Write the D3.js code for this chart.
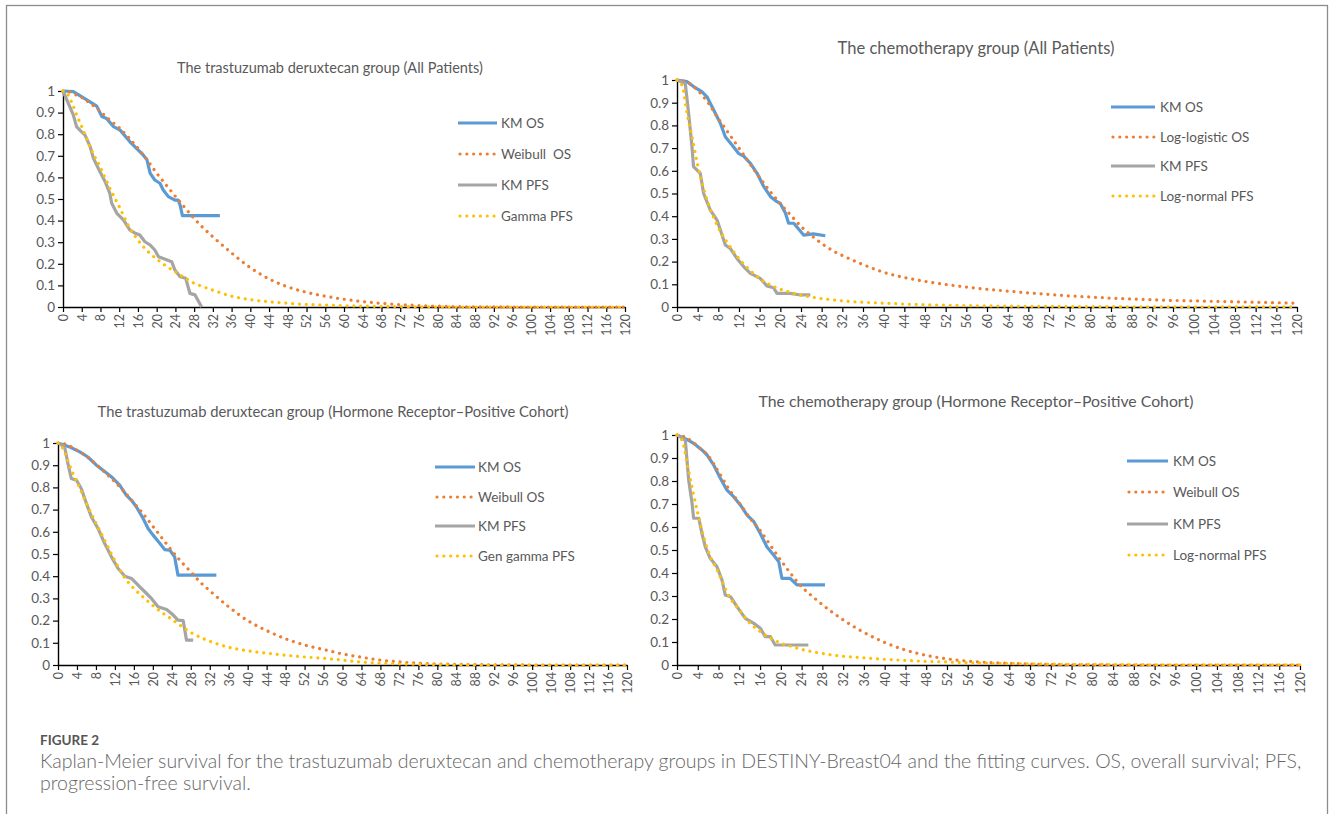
<!DOCTYPE html>
<html>
<head>
<meta charset="utf-8">
<script src="https://cdn.jsdelivr.net/npm/d3@7"></script>
<style>
  body { margin: 0; background: #fff; }
  svg text { font-family: Lato, "Open Sans", sans-serif; }
</style>
</head>
<body>
<script>
const fitMonths = [0,1,2,3,4,6,8,10,12,14,16,18,20,22,24,26,28,30,32,36,40,44,48,52,56,60,64,68,72,76,80,84,88,92,96,100,104,108,112,116,120]
const xTickLabels = [0,4,8,12,16,20,24,28,32,36,40,44,48,52,56,60,64,68,72,76,80,84,88,92,96,100,104,108,112,116,120]
const yTicks = [0,0.1,0.2,0.3,0.4,0.5,0.6,0.7,0.8,0.9,1]

// trastuzumab deruxtecan, all patients
const p1KmOs = [[0,1],[2.2,0.997],[5.0,0.96],[7.2,0.93],[8.3,0.882],[9.3,0.873],[10.8,0.835],[12.2,0.819],[14.3,0.765],[17.1,0.704],[17.9,0.683],[18.6,0.62],[19.6,0.588],[20.7,0.573],[21.4,0.542],[22.5,0.511],[23.9,0.495],[24.6,0.495],[25.0,0.472],[25.5,0.423],[33.5,0.423]]
const p1KmPfs = [[0,1],[1.0,0.95],[2.2,0.889],[2.9,0.835],[3.6,0.819],[4.7,0.796],[5.8,0.742],[6.5,0.688],[7.9,0.626],[9.0,0.58],[10.0,0.526],[10.4,0.48],[11.5,0.434],[12.9,0.403],[14.3,0.356],[15.2,0.344],[16.4,0.333],[17.5,0.302],[18.6,0.287],[19.6,0.264],[20.4,0.233],[21.4,0.225],[23.2,0.21],[23.9,0.171],[25.0,0.14],[26.2,0.133],[27.1,0.063],[28.2,0.056],[29.6,0]]
const p1WeibullOs = [1,0.998,0.99,0.98,0.97,0.94,0.905,0.865,0.83,0.785,0.735,0.68,0.62,0.565,0.512,0.46,0.41,0.365,0.325,0.25,0.182,0.13,0.093,0.068,0.05,0.036,0.025,0.017,0.011,0.007,0.004,0.002,0.001,0.001,0,0,0,0,0,0,0]
const p1GammaPfs = [1,0.985,0.94,0.885,0.835,0.73,0.645,0.55,0.465,0.375,0.31,0.26,0.222,0.19,0.163,0.135,0.11,0.093,0.078,0.05,0.034,0.024,0.017,0.012,0.009,0.006,0.004,0.003,0.002,0.001,0.001,0,0,0,0,0,0,0,0,0,0]

// chemotherapy, all patients
const p2KmOs = [[0,1],[1.9,0.993],[3.2,0.971],[4.8,0.949],[5.8,0.926],[7.1,0.868],[8.4,0.809],[9.35,0.75],[10.65,0.714],[11.9,0.677],[12.9,0.665],[14.2,0.633],[15.5,0.589],[16.8,0.53],[18.1,0.486],[19.35,0.464],[20.0,0.456],[21.0,0.413],[21.6,0.369],[22.6,0.369],[24.5,0.317],[26.4,0.322],[28.7,0.314]]
const p2KmPfs = [[0,1],[1.6,0.985],[2.25,0.853],[2.9,0.706],[3.2,0.618],[4.5,0.589],[5.15,0.5],[6.45,0.427],[7.75,0.383],[8.4,0.339],[9.35,0.273],[10.3,0.258],[11.6,0.214],[12.9,0.178],[14.2,0.148],[16.1,0.126],[17.4,0.093],[18.7,0.085],[19.35,0.06],[21.9,0.06],[23.9,0.053],[25.8,0.053]]
const p2LogLogisticOs = [1,0.997,0.99,0.975,0.955,0.9,0.83,0.765,0.7,0.635,0.57,0.51,0.455,0.405,0.355,0.315,0.28,0.25,0.227,0.187,0.153,0.13,0.113,0.099,0.088,0.078,0.07,0.062,0.055,0.049,0.044,0.039,0.035,0.032,0.029,0.027,0.025,0.023,0.021,0.019,0.017]
const p2LogNormalPfs = [1,0.975,0.845,0.74,0.625,0.46,0.35,0.275,0.213,0.165,0.125,0.098,0.078,0.064,0.052,0.044,0.037,0.032,0.027,0.021,0.017,0.013,0.01,0.008,0.006,0.005,0.004,0.003,0.003,0.002,0.002,0.002,0.001,0.001,0.001,0.001,0.001,0.001,0.001,0.001,0.001]

// trastuzumab deruxtecan, HR-positive cohort
const p3KmOs = [[0,1],[2.5,0.982],[4.6,0.96],[6.3,0.937],[8.1,0.9],[9.5,0.877],[11.3,0.847],[13.0,0.81],[14.4,0.765],[15.5,0.742],[16.55,0.712],[17.95,0.66],[19.0,0.615],[20.05,0.585],[21.5,0.547],[22.5,0.52],[23.6,0.517],[24.6,0.487],[25.3,0.405],[33.4,0.405]]
const p3KmPfs = [[0,1],[1.4,0.982],[2.1,0.907],[2.8,0.84],[3.9,0.832],[4.9,0.795],[6.0,0.727],[7.05,0.667],[8.44,0.615],[9.85,0.547],[11.27,0.487],[12.67,0.435],[14.1,0.4],[15.5,0.39],[17.25,0.352],[18.3,0.33],[19.7,0.3],[21.1,0.262],[22.9,0.25],[24.3,0.225],[25.3,0.202],[26.4,0.2],[27.1,0.112],[28.5,0.112]]
const p3WeibullOs = [1,0.998,0.99,0.98,0.968,0.94,0.905,0.865,0.825,0.78,0.73,0.68,0.625,0.57,0.515,0.465,0.42,0.373,0.335,0.262,0.2,0.155,0.118,0.09,0.07,0.05,0.035,0.022,0.014,0.008,0.005,0.003,0.002,0.001,0.001,0,0,0,0,0,0]
const p3GenGammaPfs = [1,0.977,0.925,0.87,0.825,0.727,0.64,0.555,0.47,0.395,0.345,0.305,0.268,0.235,0.206,0.175,0.147,0.125,0.107,0.08,0.064,0.053,0.044,0.036,0.03,0.022,0.013,0.008,0.005,0.003,0.002,0.001,0,0,0,0,0,0,0,0,0]

// chemotherapy, HR-positive cohort
const p4KmOs = [[0,1],[1.9,0.981],[3.2,0.964],[4.8,0.935],[5.8,0.913],[7.05,0.87],[8.35,0.812],[9.6,0.761],[10.9,0.732],[12.2,0.696],[13.5,0.652],[14.8,0.623],[16.05,0.572],[17.3,0.514],[18.6,0.478],[19.6,0.449],[20.2,0.377],[21.8,0.377],[23.1,0.348],[28.5,0.348]]
const p4KmPfs = [[0,1],[1.6,0.978],[2.25,0.804],[2.9,0.703],[3.2,0.638],[4.2,0.638],[4.8,0.572],[5.45,0.514],[6.4,0.464],[7.7,0.427],[8.66,0.37],[9.3,0.304],[10.3,0.297],[11.55,0.254],[13.15,0.203],[14.8,0.181],[16.05,0.16],[17.0,0.123],[18.0,0.123],[18.9,0.087],[22.5,0.087],[25.3,0.087]]
const p4WeibullOs = [1,0.996,0.985,0.97,0.95,0.91,0.84,0.765,0.705,0.64,0.585,0.52,0.455,0.395,0.34,0.3,0.262,0.228,0.196,0.142,0.098,0.065,0.042,0.027,0.017,0.011,0.007,0.004,0.002,0.001,0.001,0,0,0,0,0,0,0,0,0,0]
const p4LogNormalPfs = [1,0.975,0.87,0.76,0.66,0.495,0.4,0.3,0.24,0.183,0.146,0.117,0.095,0.081,0.068,0.058,0.05,0.043,0.038,0.031,0.025,0.02,0.016,0.013,0.01,0.008,0.006,0.005,0.004,0.003,0.003,0.002,0.002,0.001,0.001,0.001,0.001,0.001,0.001,0.001,0.001]

const titles = [
  'The trastuzumab deruxtecan group (All Patients)',
  'The chemotherapy group (All Patients)',
  'The trastuzumab deruxtecan group (Hormone Receptor\u2013Positive Cohort)',
  'The chemotherapy group (Hormone Receptor\u2013Positive Cohort)'
]
const legendNames = [
  ['KM OS', 'Weibull  OS', 'KM PFS', 'Gamma PFS'],
  ['KM OS', 'Log-logistic OS', 'KM PFS', 'Log-normal PFS'],
  ['KM OS', 'Weibull OS', 'KM PFS', 'Gen gamma PFS'],
  ['KM OS', 'Weibull OS', 'KM PFS', 'Log-normal PFS']
]
const panelSeries = [
  [p1KmOs, p1WeibullOs, p1KmPfs, p1GammaPfs],
  [p2KmOs, p2LogLogisticOs, p2KmPfs, p2LogNormalPfs],
  [p3KmOs, p3WeibullOs, p3KmPfs, p3GenGammaPfs],
  [p4KmOs, p4WeibullOs, p4KmPfs, p4LogNormalPfs]
]

// layout of the four panels (pixels); tw = width of the title in the figure
const layout = [
  { x0: 63,  x1: 625,  y0: 91,  y1: 307, tx: 330, ty: 73,  tw: 306, lx0: 458,  lx1: 497,  ltx: 501,  rows: [123, 154, 185, 216] },
  { x0: 677, x1: 1297, y0: 80,  y1: 307, tx: 976, ty: 54,  tw: 277, lx0: 1111, lx1: 1155, ltx: 1160, rows: [107, 137, 166, 196] },
  { x0: 58,  x1: 627,  y0: 443, y1: 665, tx: 333, ty: 417, tw: 471, lx0: 435,  lx1: 475,  ltx: 478,  rows: [467, 497, 526, 556] },
  { x0: 677, x1: 1300, y0: 435, y1: 665, tx: 976, ty: 407, tw: 435, lx0: 1127, lx1: 1168, ltx: 1173, rows: [461, 492, 524, 555] }
]

const seriesStyle = [
  { color: '#5B9BD5', dotted: false },
  { color: '#ED7D31', dotted: true },
  { color: '#A5A5A5', dotted: false },
  { color: '#FFC000', dotted: true }
]
const labelGrey = '#595959'

const W = 1330, H = 814
const svg = d3.select('body').append('svg')
  .attr('width', W).attr('height', H)

// frame around the figure
svg.append('rect')
  .attr('x', 6.5).attr('y', 5.5)
  .attr('width', 1321).attr('height', 840)
  .attr('fill', 'none').attr('stroke', '#8c8c8c').attr('stroke-width', 1.3)

layout.forEach((L, p) => {
  const g = svg.append('g')
  const x = d3.scaleLinear().domain([0, 120]).range([L.x0, L.x1])
  const y = d3.scaleLinear().domain([0, 1]).range([L.y1, L.y0])

  // title, sized to the width it has in the figure
  const title = g.append('text')
    .attr('x', L.tx).attr('y', L.ty)
    .attr('text-anchor', 'middle')
    .style('font-size', '14px')
    .style('fill', labelGrey)
    .text(titles[p])
  const tl = title.node().getComputedTextLength()
  title.style('font-size', (14 * L.tw / tl).toFixed(2) + 'px')

  // y axis
  const gy = g.append('g')
    .attr('transform', `translate(${L.x0},0)`)
    .call(d3.axisLeft(y).tickValues(yTicks).tickSize(5).tickSizeOuter(0)
      .tickFormat(d => d3.format('~g')(d)))
  gy.selectAll('text').style('font-size', '13.5px').style('fill', labelGrey).attr('x', -8)

  // x axis
  const gx = g.append('g')
    .attr('transform', `translate(0,${L.y1})`)
    .call(d3.axisBottom(x).tickValues(xTickLabels).tickSize(5).tickSizeOuter(0))
  gx.selectAll('text')
    .attr('transform', 'rotate(-90)')
    .attr('text-anchor', 'end')
    .attr('x', -7).attr('y', 0).attr('dy', '0.35em')
    .style('font-size', '12.5px').style('fill', labelGrey)

  ;[gx, gy].forEach(a => {
    a.select('.domain').attr('stroke', '#000').attr('stroke-width', 1.4)
    a.selectAll('.tick line').attr('stroke', '#000').attr('stroke-width', 1.2)
  })

  const kmLine = d3.line().x(d => x(d[0])).y(d => y(d[1]))
  const fitLine = d3.line().x((d, i) => x(fitMonths[i])).y(d => y(d)).curve(d3.curveMonotoneX)

  panelSeries[p].forEach((s, k) => {
    const st = seriesStyle[k]
    const path = g.append('path')
      .attr('d', st.dotted ? fitLine(s) : kmLine(s))
      .attr('fill', 'none')
      .attr('stroke', st.color)
      .attr('stroke-width', 3.2)
      .attr('stroke-linejoin', 'round')
    if (st.dotted) {
      path.attr('stroke-dasharray', '0.01 6.8').attr('stroke-linecap', 'round')
    }
  })

  // legend
  legendNames[p].forEach((name, k) => {
    const st = seriesStyle[k]
    const ry = L.rows[k]
    const ln = g.append('line')
      .attr('x1', L.lx0 + (st.dotted ? 2 : 0)).attr('x2', L.lx1)
      .attr('y1', ry).attr('y2', ry)
      .attr('stroke', st.color).attr('stroke-width', 3.2)
    if (st.dotted) ln.attr('stroke-dasharray', '0.01 6.8').attr('stroke-linecap', 'round')
    g.append('text')
      .attr('x', L.ltx).attr('y', ry)
      .attr('dy', '0.35em')
      .style('font-size', '13.5px')
      .style('fill', labelGrey)
      .style('white-space', 'pre')
      .text(name)
  })
})

// caption
svg.append('text')
  .attr('x', 40).attr('y', 745)
  .style('font-size', '13.5px').style('font-weight', 700)
  .style('fill', '#555')
  .text('FIGURE 2')

const capLines = [
  'Kaplan-Meier survival for the trastuzumab deruxtecan and chemotherapy groups in DESTINY-Breast04 and the fitting curves. OS, overall survival; PFS,',
  'progression-free survival.'
]
const cap = svg.append('g')
capLines.forEach((t, i) => {
  cap.append('text')
    .attr('x', 40).attr('y', 768 + i * 22)
    .style('font-size', '16px')
    .style('font-weight', 300)
    .style('fill', '#666')
    .text(t)
})
// scale caption font so the first line spans the same width as in the figure
const w0 = cap.select('text').node().getComputedTextLength()
const fs = 16 * 1262 / w0
cap.selectAll('text').style('font-size', fs.toFixed(2) + 'px')
</script>
</body>
</html>
